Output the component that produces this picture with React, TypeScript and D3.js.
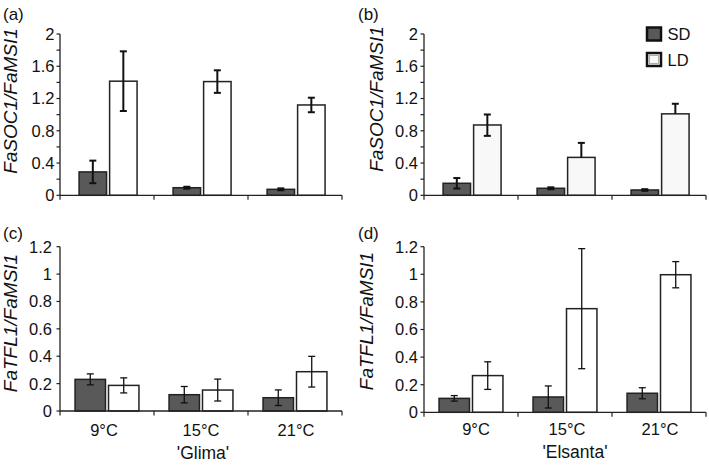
import React from 'react';
import * as d3 from 'd3';

const categories = ['9°C', '15°C', '21°C'];
const seriesNames = ['SD', 'LD'];

// Panel (a) 'Glima' FaSOC1
const sdA = [0.29, 0.094, 0.074];
const sdErrA = [0.14, 0.012, 0.012];
const ldA = [1.415, 1.41, 1.12];
const ldErrA = [0.37, 0.14, 0.09];

// Panel (b) 'Elsanta' FaSOC1
const sdB = [0.149, 0.087, 0.066];
const sdErrB = [0.065, 0.012, 0.01];
const ldB = [0.872, 0.47, 1.01];
const ldErrUpB = [0.13, 0.18, 0.125];
const ldErrDownB = [0.135, 0, 0];

// Panel (c) 'Glima' FaTFL1
const sdC = [0.231, 0.119, 0.097];
const sdErrC = [0.04, 0.06, 0.057];
const ldC = [0.187, 0.153, 0.287];
const ldErrC = [0.055, 0.08, 0.112];

// Panel (d) 'Elsanta' FaTFL1
const sdD = [0.101, 0.111, 0.138];
const sdErrD = [0.02, 0.08, 0.04];
const ldD = [0.266, 0.751, 0.997];
const ldErrD = [0.1, 0.435, 0.095];

const ticksSOC = [0, 0.2, 0.4, 0.6, 0.8, 1, 1.2, 1.4, 1.6, 1.8, 2];
const labelsSOC = [0, 0.4, 0.8, 1.2, 1.6, 2];
const ticksTFL = [0, 0.2, 0.4, 0.6, 0.8, 1, 1.2];
const labelsTFL = [0, 0.2, 0.4, 0.6, 0.8, 1, 1.2];

const FONT = '"Liberation Sans", Arial, sans-serif';

type PanelProps = {
  label: string;
  labelX: number;
  labelY: number;
  x0: number;
  x1: number;
  yTop: number;
  yBottom: number;
  yMax: number;
  ticks: number[];
  tickLabels: number[];
  labelGap: number;
  title: string;
  titleX: number;
  titleY: number;
  sd: number[];
  sdUp: number[];
  sdDown: number[];
  ld: number[];
  ldUp: number[];
  ldDown: number[];
  padInner: number;
  padOuter: number;
  align: number;
  errWidth: number;
  ldFill: string;
  showCats: boolean;
  catY?: number;
  catDx?: number[];
  cultivar?: string;
  cultivarX?: number;
  cultivarY?: number;
};

function Panel(p: PanelProps) {
  const x = d3.scaleBand<string>().domain(categories).range([p.x0, p.x1]).padding(0);
  const inner = d3
    .scaleBand<string>()
    .domain(seriesNames)
    .range([0, x.bandwidth()])
    .paddingInner(p.padInner)
    .paddingOuter(p.padOuter)
    .align(p.align);
  const y = d3.scaleLinear().domain([0, p.yMax]).range([p.yBottom, p.yTop]);
  const fmt = (v: number) => String(+v.toFixed(1));
  const series = [
    { name: 'SD', vals: p.sd, up: p.sdUp, down: p.sdDown, fill: '#595959' },
    { name: 'LD', vals: p.ld, up: p.ldUp, down: p.ldDown, fill: p.ldFill },
  ];
  const capHalf = 3.5;
  return (
    <g>
      <text x={p.labelX} y={p.labelY} fontSize={17} fontFamily={FONT} fill="#111">
        {p.label}
      </text>
      <text
        transform={`translate(${p.titleX},${p.titleY}) rotate(-90)`}
        textAnchor="middle"
        fontSize={19}
        fontStyle="italic"
        fontFamily={FONT}
        fill="#111"
      >
        {p.title}
      </text>
      {series.map((s) =>
        categories.map((c, i) => {
          const bx = (x(c) as number) + (inner(s.name) as number);
          const bw = inner.bandwidth();
          const top = y(s.vals[i]);
          return (
            <rect
              key={s.name + c}
              x={bx}
              y={top}
              width={bw}
              height={y(0) - top}
              fill={s.fill}
              stroke="#222"
              strokeWidth={1.5}
            />
          );
        })
      )}
      {series.map((s) =>
        categories.map((c, i) => {
          const cx = (x(c) as number) + (inner(s.name) as number) + inner.bandwidth() / 2;
          const hi = y(s.vals[i] + s.up[i]);
          const lo = y(s.vals[i] - s.down[i]);
          const mid = y(s.vals[i]);
          return (
            <g key={'e' + s.name + c} stroke="#111" strokeWidth={p.errWidth}>
              <line x1={cx} x2={cx} y1={hi} y2={s.down[i] > 0 ? lo : mid} />
              <line x1={cx - capHalf} x2={cx + capHalf} y1={hi} y2={hi} />
              {s.down[i] > 0 && <line x1={cx - capHalf} x2={cx + capHalf} y1={lo} y2={lo} />}
            </g>
          );
        })
      )}
      {/* y axis */}
      <line x1={p.x0} x2={p.x0} y1={p.yTop} y2={p.yBottom} stroke="#222" strokeWidth={1.3} />
      {p.ticks.map((t) => (
        <line key={'t' + t} x1={p.x0 - 3.5} x2={p.x0} y1={y(t)} y2={y(t)} stroke="#222" strokeWidth={1.2} />
      ))}
      {p.tickLabels.map((t) => (
        <text
          key={'l' + t}
          x={p.x0 - p.labelGap}
          y={y(t)}
          dy="0.36em"
          textAnchor="end"
          fontSize={16.5}
          fontFamily={FONT}
          fill="#111"
        >
          {fmt(t)}
        </text>
      ))}
      {/* x axis */}
      <line x1={p.x0} x2={p.x1} y1={p.yBottom} y2={p.yBottom} stroke="#222" strokeWidth={1.3} />
      {[...categories.map((c) => x(c) as number), p.x1].map((tx, i) => (
        <line key={'xt' + i} x1={tx} x2={tx} y1={p.yBottom} y2={p.yBottom + 4.5} stroke="#222" strokeWidth={1.2} />
      ))}
      {p.showCats &&
        categories.map((c, i) => (
          <text
            key={'c' + c}
            x={(x(c) as number) + x.bandwidth() / 2 + (p.catDx ? p.catDx[i] : 0)}
            y={p.catY}
            textAnchor="middle"
            fontSize={16.5}
            fontFamily={FONT}
            fill="#111"
          >
            {c}
          </text>
        ))}
      {p.cultivar && (
        <text x={p.cultivarX} y={p.cultivarY} textAnchor="middle" fontSize={17.5} fontFamily={FONT} fill="#111">
          {p.cultivar}
        </text>
      )}
    </g>
  );
}

export default function App() {
  return (
    <svg
      width={709}
      height={467}
      viewBox="0 0 709 467"
      style={{ position: 'absolute', left: 0, top: 0, background: '#fff' }}
    >
      <rect x={0} y={0} width={709} height={467} fill="#fff" />
      <Panel
        label="(a)"
        labelX={3}
        labelY={20}
        x0={60}
        x1={342}
        yTop={34}
        yBottom={195.3}
        yMax={2}
        ticks={ticksSOC}
        tickLabels={labelsSOC}
        labelGap={5.5}
        title="FaSOC1/FaMSI1"
        titleX={17}
        titleY={101}
        sd={sdA}
        sdUp={sdErrA}
        sdDown={sdErrA}
        ld={ldA}
        ldUp={ldErrA}
        ldDown={ldErrA}
        padInner={0.1}
        padOuter={0.59}
        align={0.53}
        errWidth={2}
        ldFill="#fff"
        showCats={false}
      />
      <Panel
        label="(b)"
        labelX={358}
        labelY={20}
        x0={424}
        x1={706}
        yTop={34}
        yBottom={195.3}
        yMax={2}
        ticks={ticksSOC}
        tickLabels={labelsSOC}
        labelGap={6}
        title="FaSOC1/FaMSI1"
        titleX={382.5}
        titleY={99}
        sd={sdB}
        sdUp={sdErrB}
        sdDown={sdErrB}
        ld={ldB}
        ldUp={ldErrUpB}
        ldDown={ldErrDownB}
        padInner={0.1}
        padOuter={0.59}
        align={0.53}
        errWidth={2}
        ldFill="#f8f8f8"
        showCats={false}
      />
      <Panel
        label="(c)"
        labelX={3}
        labelY={239}
        x0={60}
        x1={342}
        yTop={246.7}
        yBottom={411}
        yMax={1.2}
        ticks={ticksTFL}
        tickLabels={labelsTFL}
        labelGap={8}
        title="FaTFL1/FaMSI1"
        titleX={16.5}
        titleY={323}
        sd={sdC}
        sdUp={sdErrC}
        sdDown={sdErrC}
        ld={ldC}
        ldUp={ldErrC}
        ldDown={ldErrC}
        padInner={0.09}
        padOuter={0.45}
        align={0.5}
        errWidth={1.3}
        ldFill="#fff"
        showCats={true}
        catY={435.5}
        catDx={[-3, 0, 1]}
        cultivar="'Glima'"
        cultivarX={203}
        cultivarY={459}
      />
      <Panel
        label="(d)"
        labelX={358}
        labelY={239}
        x0={424}
        x1={706}
        yTop={246.7}
        yBottom={412.3}
        yMax={1.2}
        ticks={ticksTFL}
        tickLabels={labelsTFL}
        labelGap={6}
        title="FaTFL1/FaMSI1"
        titleX={372.5}
        titleY={321}
        sd={sdD}
        sdUp={sdErrD}
        sdDown={sdErrD}
        ld={ldD}
        ldUp={ldErrD}
        ldDown={ldErrD}
        padInner={0.09}
        padOuter={0.45}
        align={0.5}
        errWidth={1.3}
        ldFill="#fff"
        showCats={true}
        catY={435}
        catDx={[5, 2, 1]}
        cultivar="'Elsanta'"
        cultivarX={575}
        cultivarY={458}
      />
      {/* legend */}
      <g fontFamily={FONT} fontSize={16.5} fill="#111">
        <rect x={647} y={27.5} width={14} height={13} fill="#595959" stroke="#111" strokeWidth={2.5} />
        <text x={667.5} y={40}>SD</text>
        <rect x={647} y={53} width={14} height={13} fill="#f8f8f8" stroke="#111" strokeWidth={2.5} />
        <rect x={649.5} y={55.5} width={9} height={8} fill="none" stroke="#999" strokeWidth={0.8} />
        <text x={667.5} y={65.7}>LD</text>
      </g>
    </svg>
  );
}
